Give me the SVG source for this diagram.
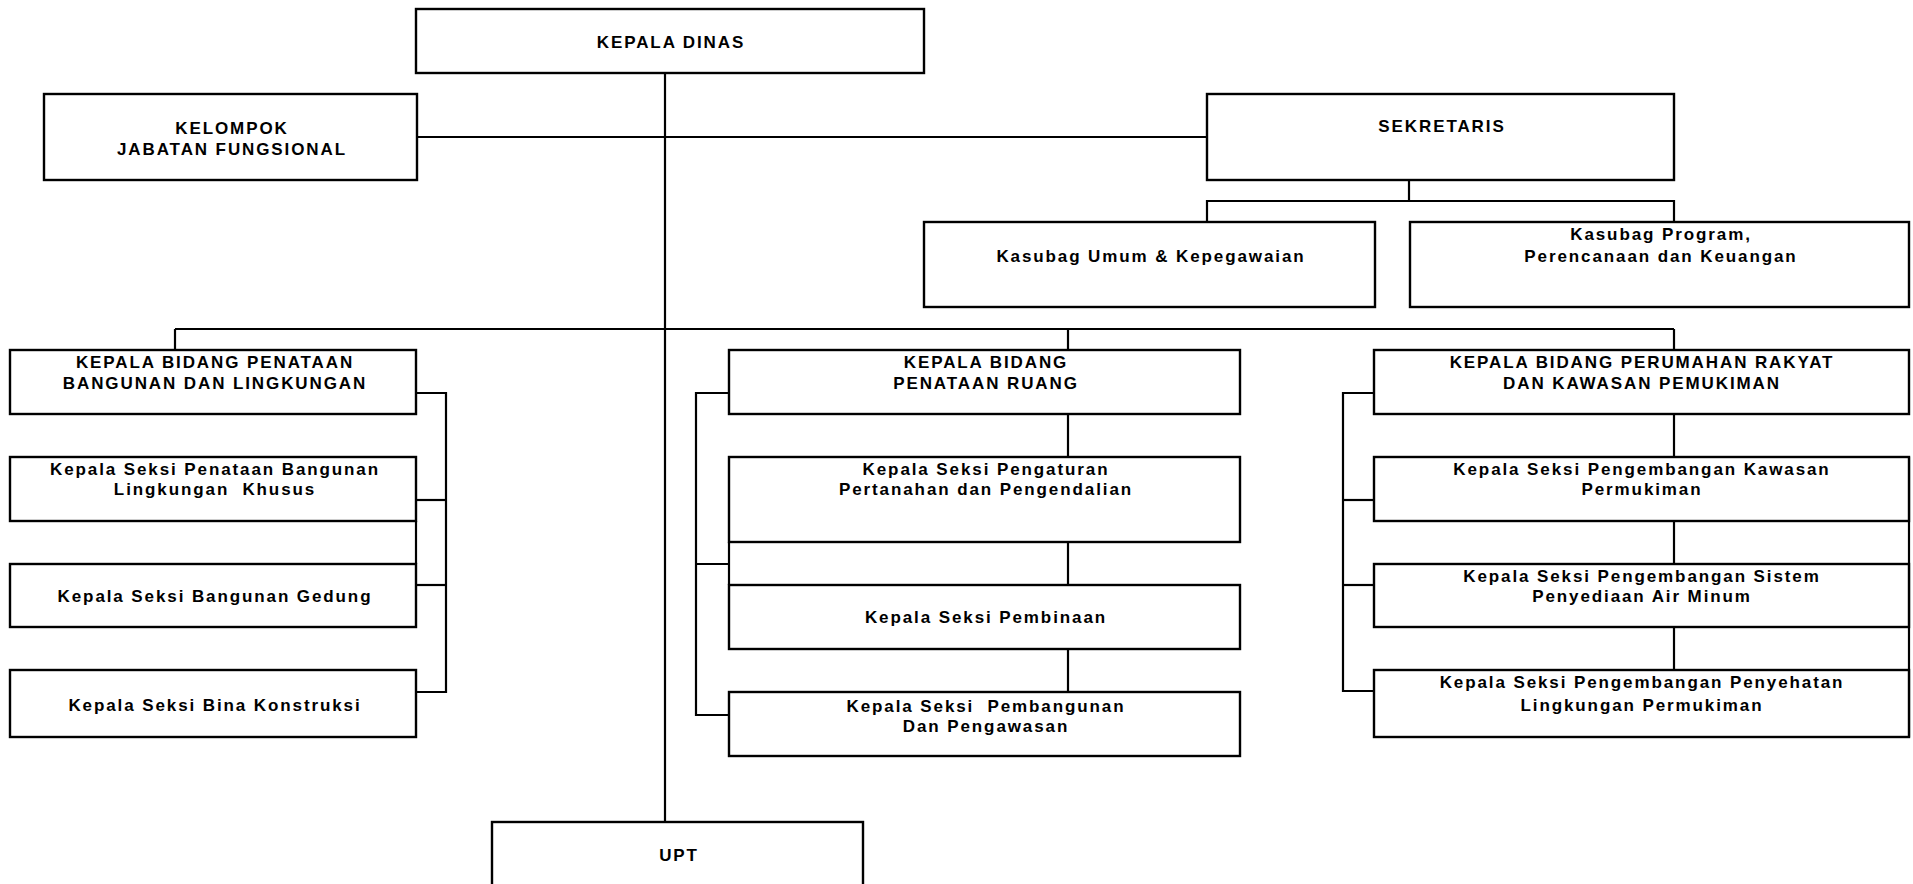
<svg xmlns="http://www.w3.org/2000/svg" width="1913" height="884" viewBox="0 0 1913 884">
<style>
rect.box{fill:#fff;stroke:#000;stroke-width:2.4}
.conn line,.conn polyline{stroke:#000;stroke-width:2.2;fill:none}
text{font-family:"Liberation Sans",Arial,sans-serif;font-weight:bold;font-size:17px;letter-spacing:1.9px;text-anchor:middle;fill:#000;white-space:pre}
</style>
<rect width="1913" height="884" fill="#fff"/>
<g class="conn" id="connectors">
<line x1="665" y1="73" x2="665" y2="822"/>
<line x1="417" y1="137" x2="1207" y2="137"/>
<line x1="1409" y1="180" x2="1409" y2="201"/>
<polyline points="1207,222 1207,201 1674,201 1674,222"/>
<line x1="175" y1="329" x2="1674" y2="329"/>
<line x1="175" y1="329" x2="175" y2="350"/>
<line x1="1068" y1="329" x2="1068" y2="350"/>
<line x1="1674" y1="329" x2="1674" y2="350"/>
<polyline points="416,393 446,393 446,692 416,692"/>
<line x1="416" y1="500" x2="446" y2="500"/>
<line x1="416" y1="585" x2="446" y2="585"/>
<line x1="416" y1="521" x2="416" y2="564"/>
<polyline points="729,393 696,393 696,715 729,715"/>
<line x1="696" y1="564" x2="729" y2="564"/>
<line x1="729" y1="542" x2="729" y2="585"/>
<line x1="1068" y1="414" x2="1068" y2="457"/>
<line x1="1068" y1="542" x2="1068" y2="585"/>
<line x1="1068" y1="649" x2="1068" y2="692"/>
<polyline points="1374,393 1343,393 1343,691 1374,691"/>
<line x1="1343" y1="500" x2="1374" y2="500"/>
<line x1="1343" y1="585" x2="1374" y2="585"/>
<line x1="1674" y1="414" x2="1674" y2="457"/>
<line x1="1674" y1="521" x2="1674" y2="564"/>
<line x1="1674" y1="627" x2="1674" y2="670"/>
<line x1="1909" y1="457" x2="1909" y2="737"/>
</g>
<g id="kepala-dinas"><rect class="box" x="416" y="9" width="508" height="64"/><text x="671" y="47.5">KEPALA DINAS</text></g>
<g id="kelompok"><rect class="box" x="44" y="94" width="373" height="86"/><text x="232" y="133.5">KELOMPOK</text><text x="232" y="155">JABATAN FUNGSIONAL</text></g>
<g id="sekretaris"><rect class="box" x="1207" y="94" width="467" height="86"/><text x="1442" y="132">SEKRETARIS</text></g>
<g id="kasubag-umum"><rect class="box" x="924" y="222" width="451" height="85"/><text x="1151" y="262">Kasubag Umum &amp; Kepegawaian</text></g>
<g id="kasubag-program"><rect class="box" x="1410" y="222" width="499" height="85"/><text x="1661" y="240">Kasubag Program,</text><text x="1661" y="262">Perencanaan dan Keuangan</text></g>
<g id="kb-bangunan"><rect class="box" x="10" y="350" width="406" height="64"/><text x="215" y="367.5">KEPALA BIDANG PENATAAN</text><text x="215" y="389">BANGUNAN DAN LINGKUNGAN</text></g>
<g id="ks-khusus"><rect class="box" x="10" y="457" width="406" height="64"/><text x="215" y="475">Kepala Seksi Penataan Bangunan</text><text x="215" y="495">Lingkungan  Khusus</text></g>
<g id="ks-gedung"><rect class="box" x="10" y="564" width="406" height="63"/><text x="215" y="602">Kepala Seksi Bangunan Gedung</text></g>
<g id="ks-konstruksi"><rect class="box" x="10" y="670" width="406" height="67"/><text x="215" y="711">Kepala Seksi Bina Konstruksi</text></g>
<g id="kb-ruang"><rect class="box" x="729" y="350" width="511" height="64"/><text x="986" y="367.5">KEPALA BIDANG</text><text x="986" y="389">PENATAAN RUANG</text></g>
<g id="ks-pengaturan"><rect class="box" x="729" y="457" width="511" height="85"/><text x="986" y="475">Kepala Seksi Pengaturan</text><text x="986" y="495">Pertanahan dan Pengendalian</text></g>
<g id="ks-pembinaan"><rect class="box" x="729" y="585" width="511" height="64"/><text x="986" y="623">Kepala Seksi Pembinaan</text></g>
<g id="ks-pembangunan"><rect class="box" x="729" y="692" width="511" height="64"/><text x="986" y="712">Kepala Seksi  Pembangunan</text><text x="986" y="732">Dan Pengawasan</text></g>
<g id="kb-perumahan"><rect class="box" x="1374" y="350" width="535" height="64"/><text x="1642" y="367.5">KEPALA BIDANG PERUMAHAN RAKYAT</text><text x="1642" y="389">DAN KAWASAN PEMUKIMAN</text></g>
<g id="ks-kawasan"><rect class="box" x="1374" y="457" width="535" height="64"/><text x="1642" y="475">Kepala Seksi Pengembangan Kawasan</text><text x="1642" y="495">Permukiman</text></g>
<g id="ks-airminum"><rect class="box" x="1374" y="564" width="535" height="63"/><text x="1642" y="581.5">Kepala Seksi Pengembangan Sistem</text><text x="1642" y="602">Penyediaan Air Minum</text></g>
<g id="ks-penyehatan"><rect class="box" x="1374" y="670" width="535" height="67"/><text x="1642" y="687.5">Kepala Seksi Pengembangan Penyehatan</text><text x="1642" y="711">Lingkungan Permukiman</text></g>
<g id="upt"><rect class="box" x="492" y="822" width="371" height="70"/><text x="679" y="861">UPT</text></g>
</svg>
